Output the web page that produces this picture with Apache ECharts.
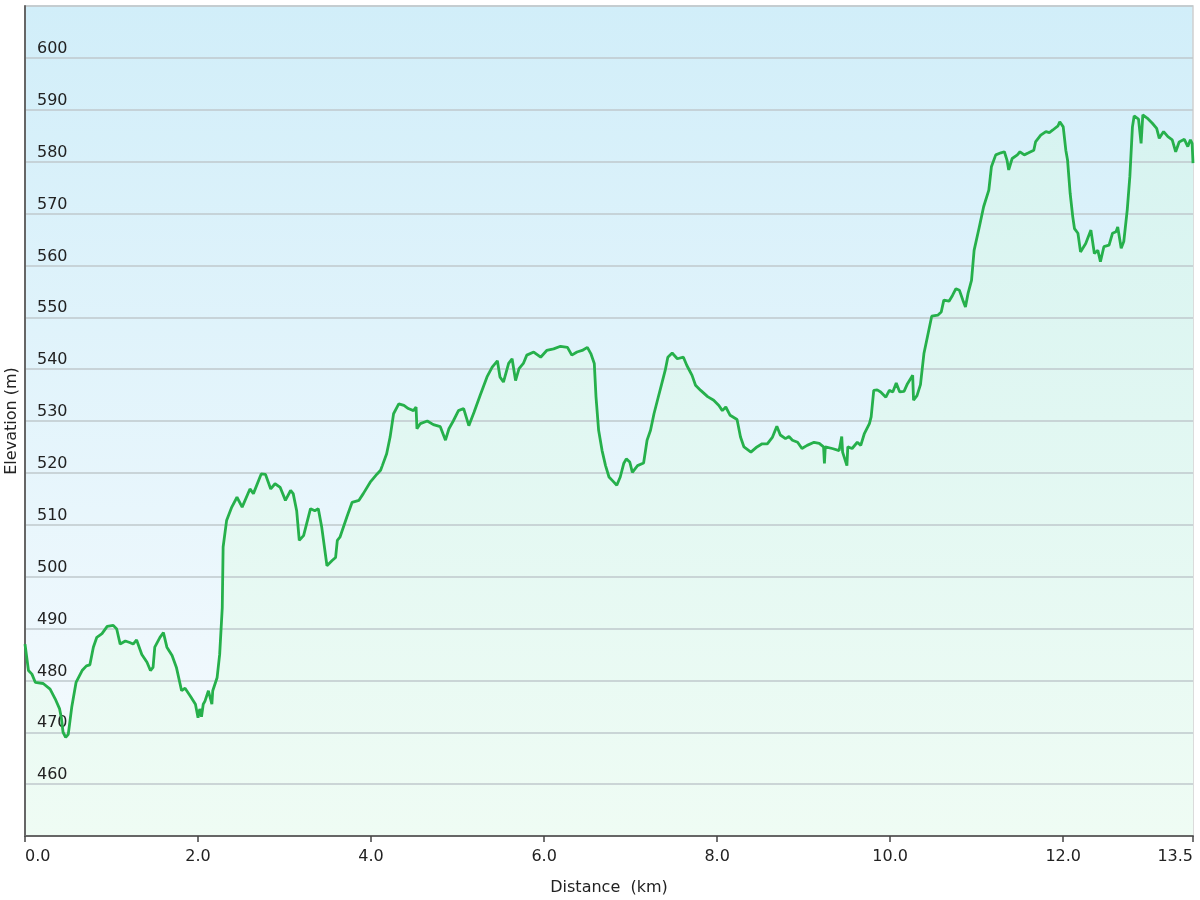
<!DOCTYPE html>
<html>
<head>
<meta charset="utf-8">
<script src="https://cdn.jsdelivr.net/npm/echarts@6/dist/echarts.min.js"></script>
<style>
html,body{margin:0;padding:0;background:#ffffff;}
#chart{width:1200px;height:900px;}
</style>
</head>
<body>
<div id="chart"></div>
<script>
// ---- data ----
const distanceKm = [
0.00,0.04,0.08,0.12,0.21,0.29,0.35,0.40,0.42,0.44,0.47,0.50,0.54,0.59,0.66,0.71,0.75,0.79,0.83,0.89,
0.95,1.02,1.06,1.10,1.16,1.21,1.25,1.29,1.35,1.41,1.45,1.48,1.50,1.56,1.60,1.64,1.70,1.75,1.81,1.85,
1.91,1.97,2.00,2.02,2.04,2.06,2.08,2.12,2.14,2.16,2.17,2.22,2.25,2.28,2.29,2.33,2.39,2.45,2.51,2.60,
2.64,2.73,2.78,2.84,2.89,2.95,3.01,3.07,3.10,3.14,3.17,3.22,3.26,3.30,3.35,3.39,3.43,3.49,3.55,3.59,
3.61,3.64,3.72,3.78,3.86,3.91,3.99,4.07,4.11,4.13,4.18,4.22,4.26,4.32,4.38,4.43,4.49,4.52,4.53,4.57,
4.65,4.72,4.80,4.86,4.90,4.95,5.01,5.07,5.13,5.19,5.26,5.34,5.40,5.46,5.49,5.53,5.59,5.63,5.67,5.71,
5.76,5.80,5.88,5.96,6.03,6.11,6.19,6.27,6.32,6.38,6.44,6.50,6.54,6.58,6.60,6.63,6.67,6.71,6.75,6.79,
6.84,6.88,6.92,6.95,6.99,7.02,7.08,7.15,7.19,7.23,7.27,7.31,7.36,7.40,7.43,7.48,7.54,7.61,7.65,7.71,
7.75,7.81,7.89,7.96,8.02,8.06,8.10,8.15,8.23,8.27,8.31,8.39,8.46,8.52,8.58,8.64,8.69,8.73,8.79,8.83,
8.87,8.93,8.98,9.04,9.12,9.18,9.23,9.24,9.25,9.33,9.41,9.44,9.45,9.50,9.51,9.56,9.62,9.66,9.70,9.76,
9.78,9.81,9.85,9.89,9.95,9.99,10.03,10.07,10.11,10.16,10.20,10.26,10.27,10.31,10.35,10.39,10.43,10.48,10.55,10.59,
10.62,10.68,10.72,10.76,10.80,10.84,10.87,10.90,10.94,10.97,11.03,11.08,11.14,11.17,11.22,11.28,11.32,11.35,11.37,11.41,
11.47,11.50,11.55,11.60,11.66,11.68,11.74,11.80,11.84,11.88,11.94,11.96,12.00,12.03,12.05,12.08,12.11,12.13,12.17,12.20,
12.22,12.26,12.32,12.36,12.40,12.43,12.47,12.53,12.57,12.61,12.63,12.67,12.70,12.74,12.77,12.80,12.82,12.87,12.90,12.92,
12.97,13.03,13.08,13.11,13.16,13.21,13.26,13.30,13.34,13.40,13.44,13.47,13.49,13.50
];
const elevationM = [
487.0,481.9,481.2,479.6,479.4,478.3,476.4,474.5,472.8,470.0,469.0,469.6,474.8,479.6,481.9,482.8,483.0,486.4,488.3,489.0,
490.4,490.6,489.9,487.0,487.6,487.3,487.0,487.8,485.0,483.5,481.9,482.5,486.4,488.3,489.2,486.4,484.8,482.5,478.0,478.5,
477.0,475.4,472.8,474.5,473.0,475.4,476.0,478.0,478.3,475.4,478.0,480.5,485.0,494.0,505.7,510.8,513.4,515.3,513.4,516.9,
516.0,519.8,519.7,516.9,517.9,517.2,514.7,516.6,516.0,512.7,507.0,507.9,510.5,513.1,512.7,513.1,509.5,502.1,503.1,503.7,
507.0,507.6,511.5,514.3,514.7,516.0,518.2,519.8,520.5,521.4,523.7,526.9,531.4,533.3,533.0,532.4,532.0,532.7,528.5,529.5,
530.0,529.3,528.9,526.3,528.5,530.0,532.0,532.4,529.1,531.7,534.9,538.5,540.4,541.6,538.5,537.5,541.1,542.0,537.8,540.1,
541.1,542.7,543.3,542.3,543.6,543.9,544.4,544.2,542.7,543.3,543.6,544.2,543.0,541.1,534.6,528.2,524.3,521.4,519.2,518.5,
517.6,519.2,521.8,522.7,522.1,520.1,521.4,521.9,526.3,528.2,531.4,534.0,537.2,539.8,542.3,543.1,542.0,542.3,540.7,538.8,
536.9,535.9,534.7,534.0,533.0,532.0,532.7,531.1,530.3,526.9,525.0,524.0,525.0,525.6,525.6,526.9,529.0,527.3,526.6,527.0,
526.3,525.9,524.7,525.3,525.9,525.7,525.0,521.8,525.0,524.7,524.3,527.0,524.0,521.4,525.0,524.7,525.9,525.3,527.5,529.5,
530.8,535.9,536.0,535.6,534.6,535.9,535.6,537.3,535.6,535.7,537.2,538.8,534.0,534.9,537.0,543.0,546.2,550.2,550.4,551.0,
553.3,553.1,554.2,555.5,555.2,553.3,552.0,554.6,557.1,562.9,567.4,571.3,574.5,579.0,581.3,581.7,581.9,580.3,578.4,580.6,
581.3,581.9,581.3,581.7,582.2,583.8,585.1,585.8,585.6,586.1,586.9,587.7,586.7,582.2,580.3,573.9,569.4,567.1,566.2,562.6,
562.3,564.2,566.8,562.3,562.9,560.7,563.6,563.9,566.2,566.5,567.4,563.3,564.6,570.7,577.1,586.7,588.8,588.2,583.5,589.0,
588.4,587.4,586.4,584.5,585.8,584.8,584.2,581.9,583.8,584.3,582.9,584.2,583.5,579.7
];
const xTickValues = [0, 2, 4, 6, 8, 10, 12, 13.5];
const yAxisMin = 450, yAxisMax = 610, yAxisStep = 10;
const xAxisTitle = 'Distance  (km)';
const yAxisTitle = 'Elevation (m)';

const points = distanceKm.map((d, i) => [d, elevationM[i]]);

const FONT = 'DejaVu Sans';
const chart = echarts.init(document.getElementById('chart'), null, {renderer: 'canvas'});
chart.setOption({
  animation: false,
  backgroundColor: '#ffffff',
  grid: {
    left: 25, right: 7, top: 6, bottom: 64,
    containLabel: false,
    outerBoundsMode: 'none',
    show: true,
    borderColor: '#d0d0d0',
    borderWidth: 1.5,
    backgroundColor: new echarts.graphic.LinearGradient(0, 0, 0, 1, [
      {offset: 0, color: '#d1eef9'},
      {offset: 1, color: '#f7fbfe'}
    ])
  },
  xAxis: {
    type: 'value',
    min: 0, max: 13.5,
    z: 2,
    name: xAxisTitle,
    nameLocation: 'middle',
    nameGap: 44,
    nameMoveOverlap: false,
    nameTextStyle: {fontFamily: FONT, fontSize: 16, color: '#222'},
    axisLine: {show: true, lineStyle: {color: '#666', width: 2}},
    axisTick: {show: true, length: 6, customValues: xTickValues, lineStyle: {color: '#444', width: 1.5}},
    splitLine: {show: false},
    axisLabel: {
      customValues: xTickValues,
      fontFamily: FONT, fontSize: 16, color: '#222', margin: 13,
      alignMinLabel: 'left', alignMaxLabel: 'right',
      formatter: v => Number(v).toFixed(1)
    }
  },
  yAxis: {
    type: 'value',
    min: yAxisMin, max: yAxisMax, interval: yAxisStep,
    z: 2,
    name: yAxisTitle,
    nameLocation: 'middle',
    nameGap: 5,
    nameMoveOverlap: false,
    nameRotate: 90,
    nameTextStyle: {fontFamily: FONT, fontSize: 16, color: '#222'},
    axisLine: {show: true, lineStyle: {color: '#666', width: 2}},
    axisTick: {show: false},
    splitLine: {show: true, lineStyle: {color: '#bfc8cc', width: 1.5}},
    axisLabel: {
      inside: true,
      margin: 12,
      verticalAlign: 'bottom',
      padding: [0, 0, 1, 0],
      fontFamily: FONT, fontSize: 16, color: '#222',
      showMinLabel: false, showMaxLabel: false,
      formatter: v => (v === yAxisMin || v === yAxisMax) ? '' : String(v)
    }
  },
  series: [{
    name: 'area',
    type: 'line',
    data: points,
    symbol: 'none',
    smooth: false,
    silent: true,
    lineStyle: {width: 0, opacity: 0},
    areaStyle: {
      color: new echarts.graphic.LinearGradient(0, 6, 0, 836, [
        {offset: 0, color: '#d3f2f0'},
        {offset: 1, color: '#effcf4'}
      ], true),
      opacity: 1
    },
    z: 1
  }, {
    name: 'line',
    type: 'line',
    data: points,
    symbol: 'none',
    smooth: false,
    lineStyle: {color: '#26b04b', width: 2.8},
    z: 3
  }]
});
</script>
</body>
</html>
